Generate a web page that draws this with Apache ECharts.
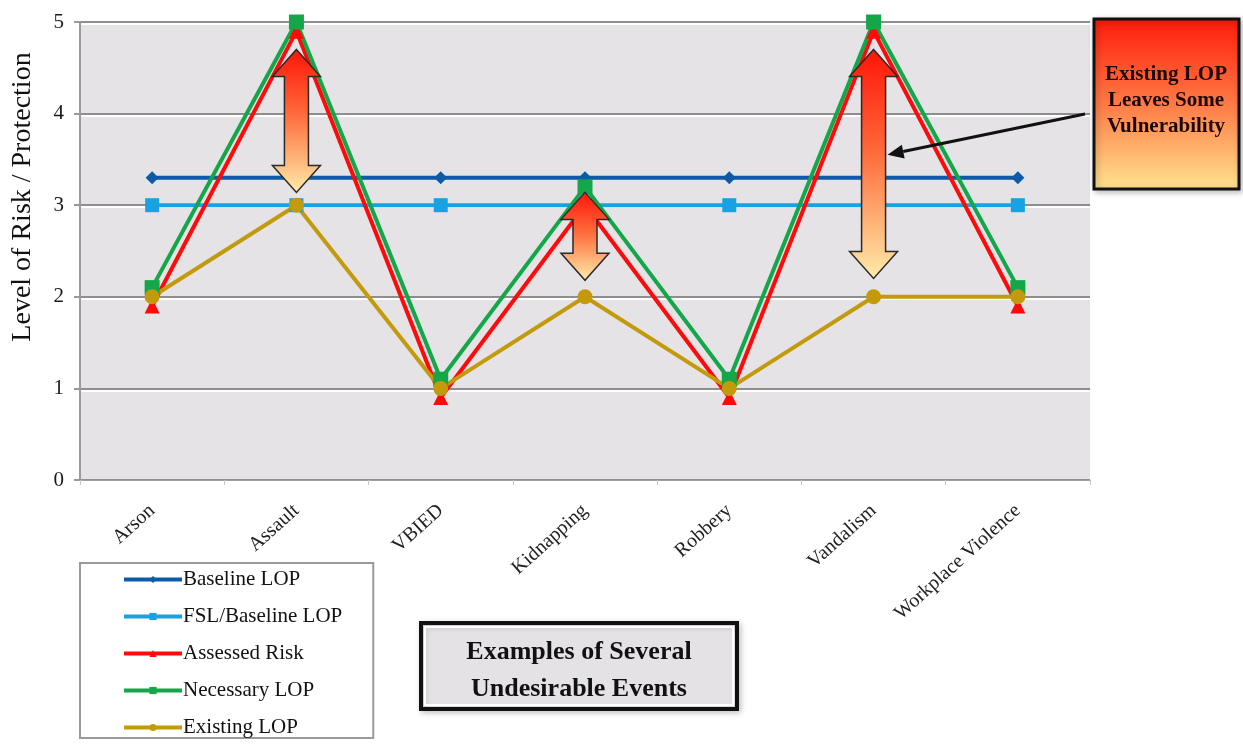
<!DOCTYPE html>
<html>
<head>
<meta charset="utf-8">
<script src="https://cdn.jsdelivr.net/npm/echarts@6/dist/echarts.min.js"></script>
<style>
  html, body { margin: 0; padding: 0; background: #fff; }
  #chart { width: 1243px; height: 749px; }
</style>
</head>
<body>
<div id="chart"></div>
<script>
// chart data
const categories = ['Arson', 'Assault', 'VBIED', 'Kidnapping', 'Robbery', 'Vandalism', 'Workplace Violence'];
const baselineLOP = [3.3, 3.3, 3.3, 3.3, 3.3, 3.3, 3.3];
const fslBaselineLOP = [3, 3, 3, 3, 3, 3, 3];
const assessedRisk = [1.9, 4.9, 0.9, 3.0, 0.9, 4.9, 1.9];
const necessaryLOP = [2.1, 5, 1.1, 3.2, 1.1, 5, 2.1];
const existingLOP = [2, 3, 1, 2, 1, 2, 2];
// gap arrows: [category index, top value, bottom value]
const gapArrows = [[1, 4.7, 3.14], [3, 3.14, 2.18], [5, 4.7, 2.2]];

const FONT = '"Liberation Serif", "DejaVu Serif", serif';

const chart = echarts.init(document.getElementById('chart'));

function lineSeries(name, data, color, symbol, size) {
  return {
    name: name,
    type: 'line',
    data: data,
    symbol: symbol,
    symbolSize: size,
    showAllSymbol: true,
    animation: false,
    itemStyle: { color: color },
    lineStyle: { color: color, width: 4 }
  };
}

chart.setOption({
  animation: false,
  textStyle: { fontFamily: FONT },
  grid: {
    left: 80, right: 153, top: 22, bottom: 269,
    show: true,
    backgroundColor: '#e5e3e5',
    borderWidth: 0
  },
  legend: {
    orient: 'vertical',
    left: 80,
    top: 563,
    padding: [6, 31, 0, 42],
    itemGap: 16,
    itemWidth: 58,
    itemHeight: 9,
    backgroundColor: '#fff',
    borderColor: '#9a9a9a',
    borderWidth: 2,
    borderRadius: 0,
    lineStyle: { width: 4 },
    textStyle: { fontFamily: FONT, fontSize: 21, color: '#111', padding: [0, 0, 0, -4] },
    data: ['Baseline LOP', 'FSL/Baseline LOP', 'Assessed Risk', 'Necessary LOP', 'Existing LOP']
  },
  xAxis: {
    type: 'category',
    data: categories,
    boundaryGap: true,
    axisLine: { show: true, lineStyle: { color: '#a0a0a0', width: 1 } },
    axisTick: { show: true, length: 5, lineStyle: { color: '#c8c8c8' } },
    axisLabel: {
      rotate: 42,
      fontFamily: FONT,
      fontSize: 20,
      color: '#222',
      margin: 28,
      interval: 0
    }
  },
  yAxis: {
    type: 'value',
    min: 0,
    max: 5,
    interval: 1,
    axisLine: { show: true, lineStyle: { color: '#9a9a9a', width: 2 } },
    axisTick: { show: true, length: 6, lineStyle: { color: '#9a9a9a', width: 2 } },
    axisLabel: { fontFamily: FONT, fontSize: 21, color: '#1a1a1a', margin: 16 },
    splitLine: {
      show: true,
      lineStyle: {
        color: '#8e8e8e', width: 2,
        shadowColor: '#ffffff', shadowOffsetY: 2, shadowBlur: 0
      }
    }
  },
  series: [
    lineSeries('Baseline LOP', baselineLOP, '#0d5aa7', 'diamond', 13),
    lineSeries('FSL/Baseline LOP', fslBaselineLOP, '#19a2e2', 'rect', 14),
    lineSeries('Assessed Risk', assessedRisk, '#ff0a0a', 'triangle', 15),
    lineSeries('Necessary LOP', necessaryLOP, '#13a74a', 'rect', 15),
    lineSeries('Existing LOP', existingLOP, '#c39a0c', 'circle', 15)
  ]
});

// annotations placed with the chart's own scales
function arrowGradient() {
  return new echarts.graphic.LinearGradient(0, 0, 0, 1, [
    { offset: 0, color: '#ff1408' },
    { offset: 0.45, color: '#ff6a3a' },
    { offset: 1, color: '#ffedaa' }
  ]);
}

const graphics = [];

gapArrows.forEach(function (a, i) {
  const top = chart.convertToPixel({ gridIndex: 0 }, [a[0], a[1]]);
  const bot = chart.convertToPixel({ gridIndex: 0 }, [a[0], a[2]]);
  const x = top[0], y1 = top[1], y2 = bot[1];
  const hw = 24, sw = 12, hh = 27;
  graphics.push({
    type: 'polygon',
    id: 'gap' + i,
    z: 100,
    shape: {
      points: [
        [x, y1], [x + hw, y1 + hh], [x + sw, y1 + hh], [x + sw, y2 - hh], [x + hw, y2 - hh],
        [x, y2], [x - hw, y2 - hh], [x - sw, y2 - hh], [x - sw, y1 + hh], [x - hw, y1 + hh]
      ]
    },
    style: { fill: arrowGradient(), stroke: '#2a2a2a', lineWidth: 1.5 }
  });
});

// callout box
graphics.push({
  type: 'rect',
  id: 'callout',
  z: 100,
  shape: { x: 1094, y: 19, width: 145, height: 170 },
  style: {
    fill: new echarts.graphic.LinearGradient(0, 0, 0, 1, [
      { offset: 0, color: '#ff1a0a' },
      { offset: 0.5, color: '#ff7a45' },
      { offset: 1, color: '#ffe590' }
    ]),
    stroke: '#111',
    lineWidth: 3,
    shadowColor: 'rgba(0,0,0,0.25)',
    shadowBlur: 6,
    shadowOffsetX: 2,
    shadowOffsetY: 2
  }
});
graphics.push({
  type: 'text',
  id: 'calloutText',
  z: 101,
  x: 1166,
  y: 101,
  style: {
    text: 'Existing LOP\nLeaves Some\nVulnerability',
    font: 'bold 21px ' + FONT,
    fill: '#1a0800',
    align: 'center',
    verticalAlign: 'middle',
    lineHeight: 26
  }
});

// pointer from callout to the Vandalism gap arrow
const tip = chart.convertToPixel({ gridIndex: 0 }, [gapArrows[2][0], 3.55]);
const tx = tip[0] + 14, ty = tip[1];
const sx = 1085, sy = 114;
const ang = Math.atan2(ty - sy, tx - sx);
const hl = 16, hwid = 7;
const bx = tx - hl * Math.cos(ang), by = ty - hl * Math.sin(ang);
graphics.push({
  type: 'line',
  id: 'pointerLine',
  z: 102,
  shape: { x1: sx, y1: sy, x2: bx, y2: by },
  style: { stroke: '#111', lineWidth: 3 }
});
graphics.push({
  type: 'polygon',
  id: 'pointerHead',
  z: 102,
  shape: {
    points: [
      [tx, ty],
      [bx + hwid * Math.sin(ang), by - hwid * Math.cos(ang)],
      [bx - hwid * Math.sin(ang), by + hwid * Math.cos(ang)]
    ]
  },
  style: { fill: '#111' }
});

// y axis name
graphics.push({
  type: 'text',
  id: 'yName',
  z: 100,
  x: 23,
  y: 197,
  rotation: Math.PI / 2,
  style: {
    text: 'Level of Risk / Protection',
    font: '28px ' + FONT,
    fill: '#111',
    align: 'center',
    verticalAlign: 'middle'
  }
});

// caption box
graphics.push({
  type: 'rect',
  id: 'captionBox',
  z: 100,
  shape: { x: 421, y: 623, width: 316, height: 86 },
  style: {
    fill: '#e4e2e4',
    stroke: '#111',
    lineWidth: 4,
    shadowColor: 'rgba(0,0,0,0.2)',
    shadowBlur: 6,
    shadowOffsetX: 2,
    shadowOffsetY: 2
  }
});
graphics.push({
  type: 'rect',
  id: 'captionInner',
  z: 101,
  shape: { x: 425, y: 627, width: 308, height: 78 },
  style: { fill: 'none', stroke: '#fff', lineWidth: 2 }
});
graphics.push({
  type: 'text',
  id: 'captionText',
  z: 102,
  x: 579,
  y: 671,
  style: {
    text: 'Examples of Several\nUndesirable Events',
    font: 'bold 26px ' + FONT,
    fill: '#111',
    align: 'center',
    verticalAlign: 'middle',
    lineHeight: 37
  }
});

chart.setOption({ graphic: graphics });
</script>
</body>
</html>
